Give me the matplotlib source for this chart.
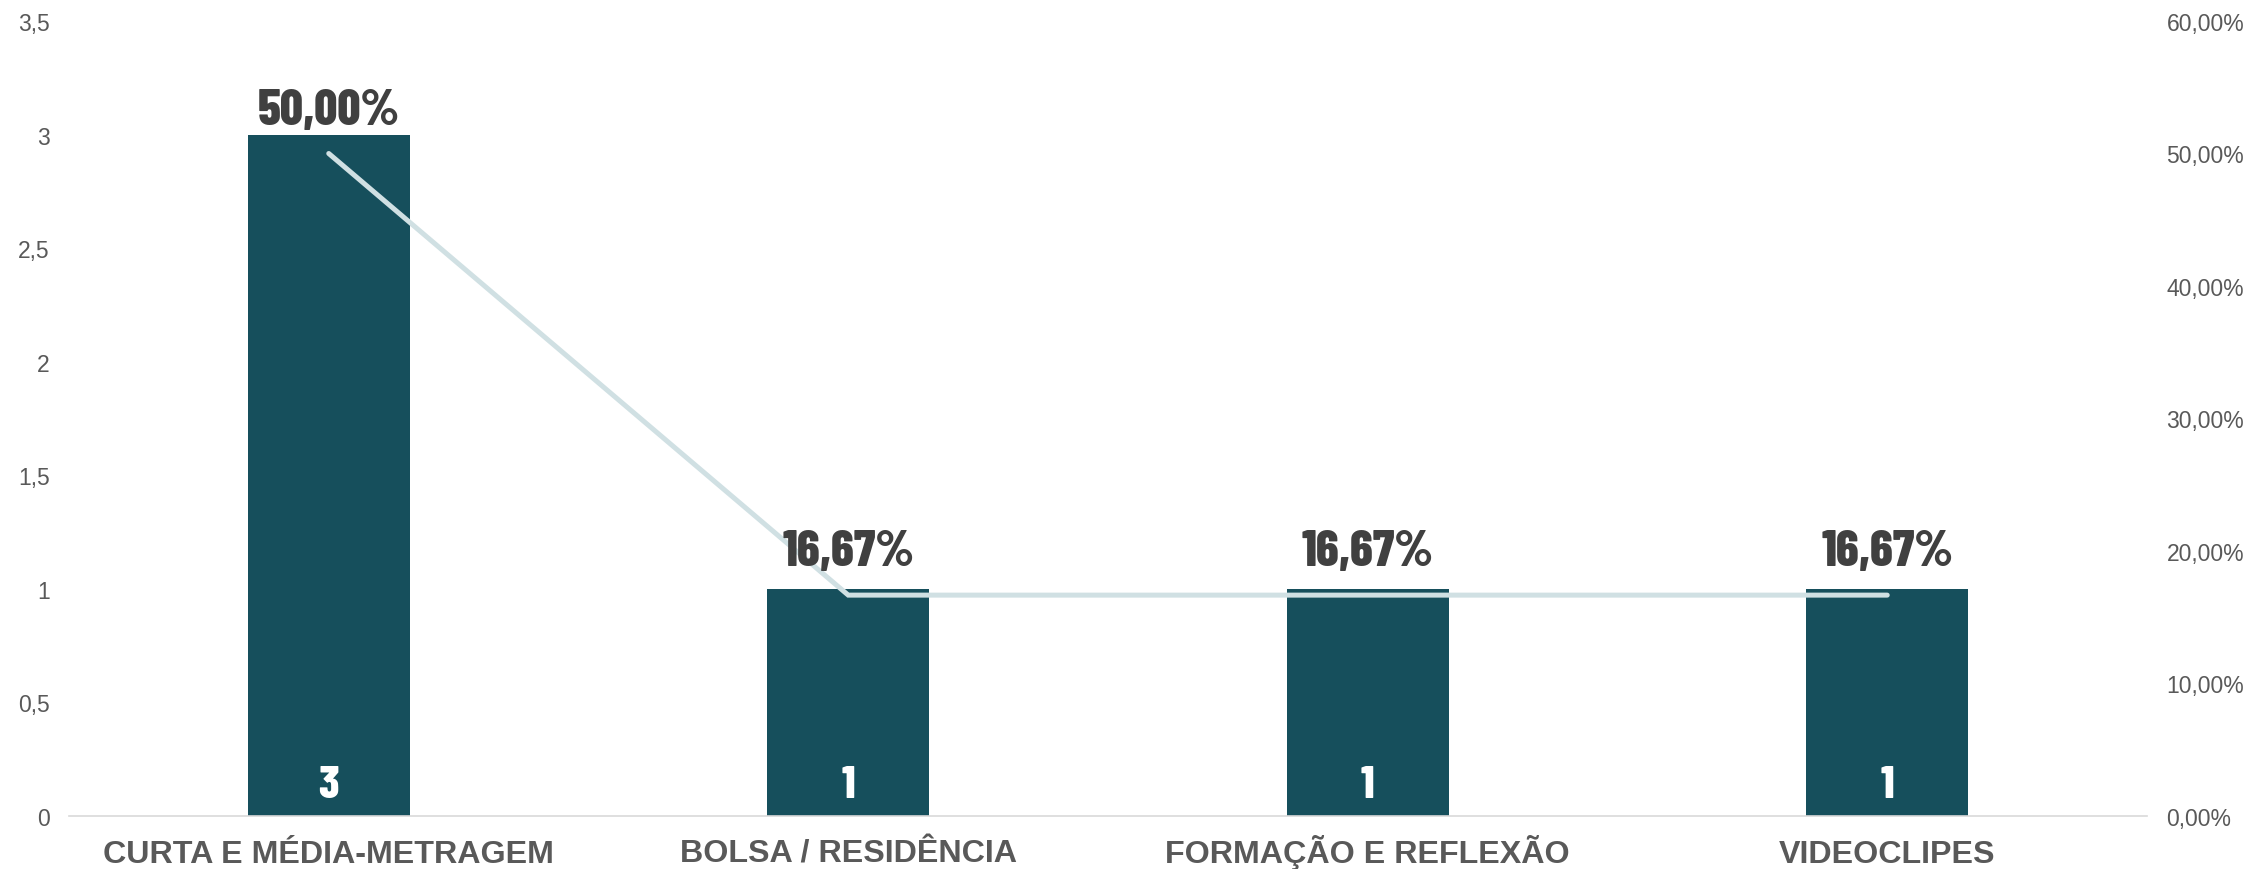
import matplotlib
matplotlib.use("Agg")
import matplotlib.pyplot as plt
from matplotlib.ticker import FuncFormatter, MultipleLocator

categories = ["CURTA E MÉDIA-METRAGEM", "BOLSA / RESIDÊNCIA",
              "FORMAÇÃO E REFLEXÃO", "VIDEOCLIPES"]
counts = [3, 1, 1, 1]
percents = [50.00, 16.67, 16.67, 16.67]

BAR_COLOUR = "#164f5c"
LINE_COLOUR = "#d0e0e3"
TICK_COLOUR = "#595959"
LABEL_COLOUR = "#404040"
CONDENSED = ["Barlow Condensed", "DejaVu Sans"]

plt.rcParams["font.family"] = ["Liberation Sans", "DejaVu Sans"]

fig = plt.figure(figsize=(22.51, 8.70), dpi=100)
ax = fig.add_axes([69 / 2251, 53 / 870, (2147 - 69) / 2251, (817 - 22) / 870])
ax2 = ax.twinx()

x = list(range(len(categories)))
ax.bar(x, counts, width=0.312, color=BAR_COLOUR, zorder=2)
ax2.plot(x, percents, color=LINE_COLOUR, linewidth=3.6,
         solid_capstyle="round", solid_joinstyle="miter", zorder=3)

ax.set_xlim(-0.5, len(categories) - 0.5)
ax.set_ylim(0, 3.5)
ax2.set_ylim(0, 60)
ax.yaxis.set_major_locator(MultipleLocator(0.5))
ax2.yaxis.set_major_locator(MultipleLocator(10))

ax.yaxis.set_major_formatter(FuncFormatter(lambda v, _: ("%g" % v).replace(".", ",")))
ax2.yaxis.set_major_formatter(FuncFormatter(lambda v, _: ("%.2f%%" % v).replace(".", ",")))

ax.set_xticks(x)
ax.set_xticklabels(categories, fontsize=23.2, fontweight="bold", color=TICK_COLOUR)
for lbl in ax.get_xticklabels():
    lbl.set_verticalalignment("baseline")

for a in (ax, ax2):
    for s in a.spines.values():
        s.set_visible(False)
    a.tick_params(axis="y", length=0, labelsize=16.5, labelcolor=TICK_COLOUR, pad=14)
ax.tick_params(axis="x", length=0, pad=33)
ax.spines["bottom"].set_visible(True)
ax.spines["bottom"].set_color("#d9d9d9")
ax.spines["bottom"].set_linewidth(1.2)
ax.set_zorder(1)
ax2.set_zorder(2)
ax.patch.set_visible(False)

# count labels inside the base of each bar
for xi, c in zip(x, counts):
    ax.annotate(str(c), (xi, 0), xytext=(0, 14), textcoords="offset points",
                ha="center", va="baseline", fontsize=33, fontweight=800,
                color="white", family=CONDENSED, zorder=4)

# percentage labels above the line points
for xi, p in zip(x, percents):
    ax2.annotate(("%.2f%%" % p).replace(".", ","), (xi, p), xytext=(0, 21.5),
                 textcoords="offset points", ha="center", va="baseline",
                 fontsize=36.5, fontweight=800, color=LABEL_COLOUR,
                 family=CONDENSED, zorder=5)

fig.savefig("out.png", dpi=100, facecolor="white")
